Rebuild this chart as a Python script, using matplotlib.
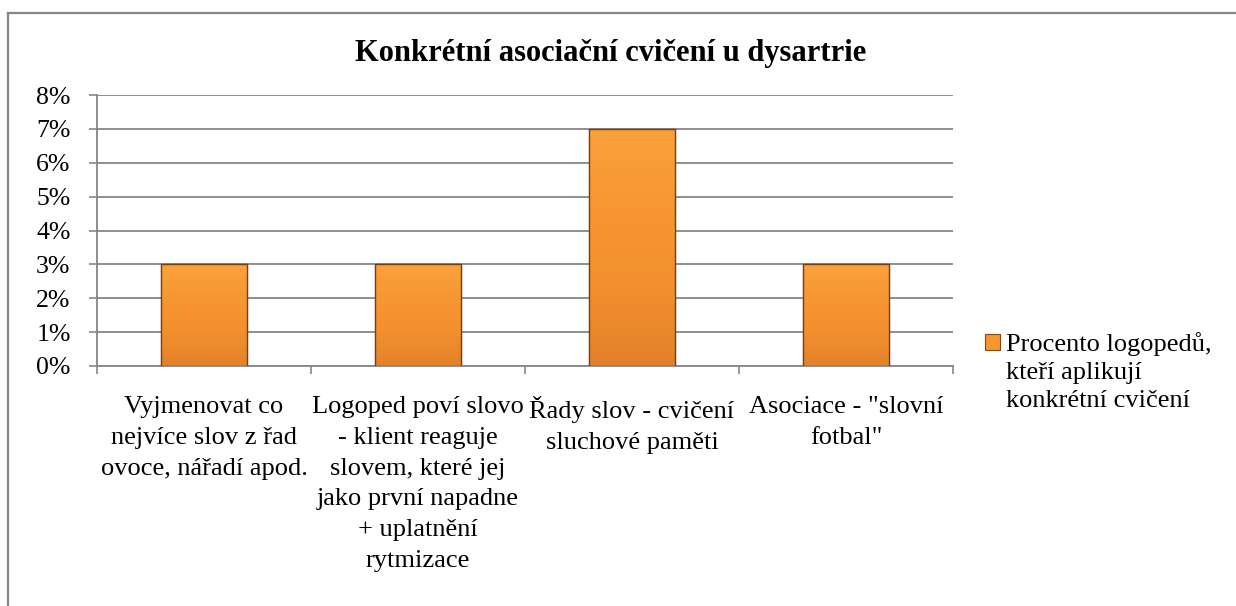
import numpy as np
import matplotlib.pyplot as plt
from matplotlib.lines import Line2D
from matplotlib.patches import Patch
from matplotlib.colors import LinearSegmentedColormap
from matplotlib.ticker import FuncFormatter

plt.rcParams['font.family'] = ['Liberation Serif', 'DejaVu Serif']

# data
kategorie = [
    "Vyjmenovat co\nnejvíce slov z řad\novoce, nářadí apod.",
    "Logoped poví slovo\n- klient reaguje\nslovem, které jej\njako první napadne\n+ uplatnění\nrytmizace",
    "Řady slov - cvičení\nsluchové paměti",
    "Asociace - \"slovní\nfotbal\"",
]
procenta = [0.03, 0.03, 0.07, 0.03]
y_ticks = [0, 0.01, 0.02, 0.03, 0.04, 0.05, 0.06, 0.07, 0.08]
nazev = "Konkrétní asociační cvičení u dysartrie"
legenda = ["Procento logopedů,", "kteří aplikují", "konkrétní cvičení"]

W, H = 1236, 606
fig = plt.figure(figsize=(W / 100, H / 100), dpi=100)
ax = fig.add_axes([97 / W, 1 - 366 / H, (953 - 97) / W, (366 - 95) / H])

seda = "#868686"
x = np.arange(len(kategorie))
bars = ax.bar(x, procenta, width=0.4, color="#F7962F", edgecolor="#7A3E10",
              linewidth=0.8, zorder=3)

# soft gradient inside each bar (lighter top -> darker bottom)
grad = np.linspace(0, 1, 256).reshape(-1, 1)
cmap = LinearSegmentedColormap.from_list("oranz", ["#FAA23C", "#F79632", "#F2902F", "#E3812A"])
for b in bars:
    x0, y0 = b.get_x(), b.get_y()
    w, h = b.get_width(), b.get_height()
    im = ax.imshow(grad, extent=(x0, x0 + w, y0, y0 + h), origin="upper",
                   cmap=cmap, aspect="auto", zorder=3.5)
    im.set_clip_path(b)
    ax.add_patch(plt.Rectangle((x0, y0), w, h, fill=False, edgecolor="#7A3E10",
                               linewidth=1.0, zorder=4))

ax.set_xlim(-0.5, len(kategorie) - 0.5)
ax.set_ylim(0, 0.08)
ax.set_yticks(y_ticks)
ax.yaxis.set_major_formatter(FuncFormatter(lambda v, p: f"{v * 100:.0f}%"))
ax.set_xticks(x)
ax.set_xticklabels(kategorie, fontsize=19, linespacing=1.52)
ax.set_xticks(np.arange(len(kategorie) + 1) - 0.5, minor=True)
ax.tick_params(axis="x", which="major", length=0, pad=21.5)
ax.tick_params(axis="x", which="minor", length=6, width=1.2, color=seda, direction="out")
ax.tick_params(axis="y", length=6, width=1.2, color=seda, direction="out",
               labelsize=18.5, pad=13)

ax.grid(axis="y", color=seda, linewidth=1.3, zorder=0)
ax.set_axisbelow(True)
for s in ["top", "right"]:
    ax.spines[s].set_visible(False)
for s in ["left", "bottom"]:
    ax.spines[s].set_color(seda)
    ax.spines[s].set_linewidth(1.3)

fig.text(611 / W, 1 - 53 / H, nazev, ha="center", va="center",
         fontsize=22, fontweight="bold")

handle = Patch(facecolor="#F7962F", edgecolor="#8A4615", linewidth=0.8)
prazdny = Line2D([], [], linestyle="none")
fig.legend([handle, prazdny, prazdny], legenda, loc="upper left",
           bbox_to_anchor=(985 / W, 1 - 332 / H), frameon=False, fontsize=19,
           handlelength=0.55, handleheight=0.55, handletextpad=0.25,
           labelspacing=0.22, borderpad=0, borderaxespad=0)

# chart border (only top and left are visible in crop)
fig.add_artist(Line2D([7.5 / W, 7.5 / W], [0, 1 - 13 / H], color=seda, linewidth=1.6))
fig.add_artist(Line2D([7.5 / W, 1], [1 - 13 / H, 1 - 13 / H], color=seda, linewidth=1.6))

fig.savefig("out.png", dpi=100)
